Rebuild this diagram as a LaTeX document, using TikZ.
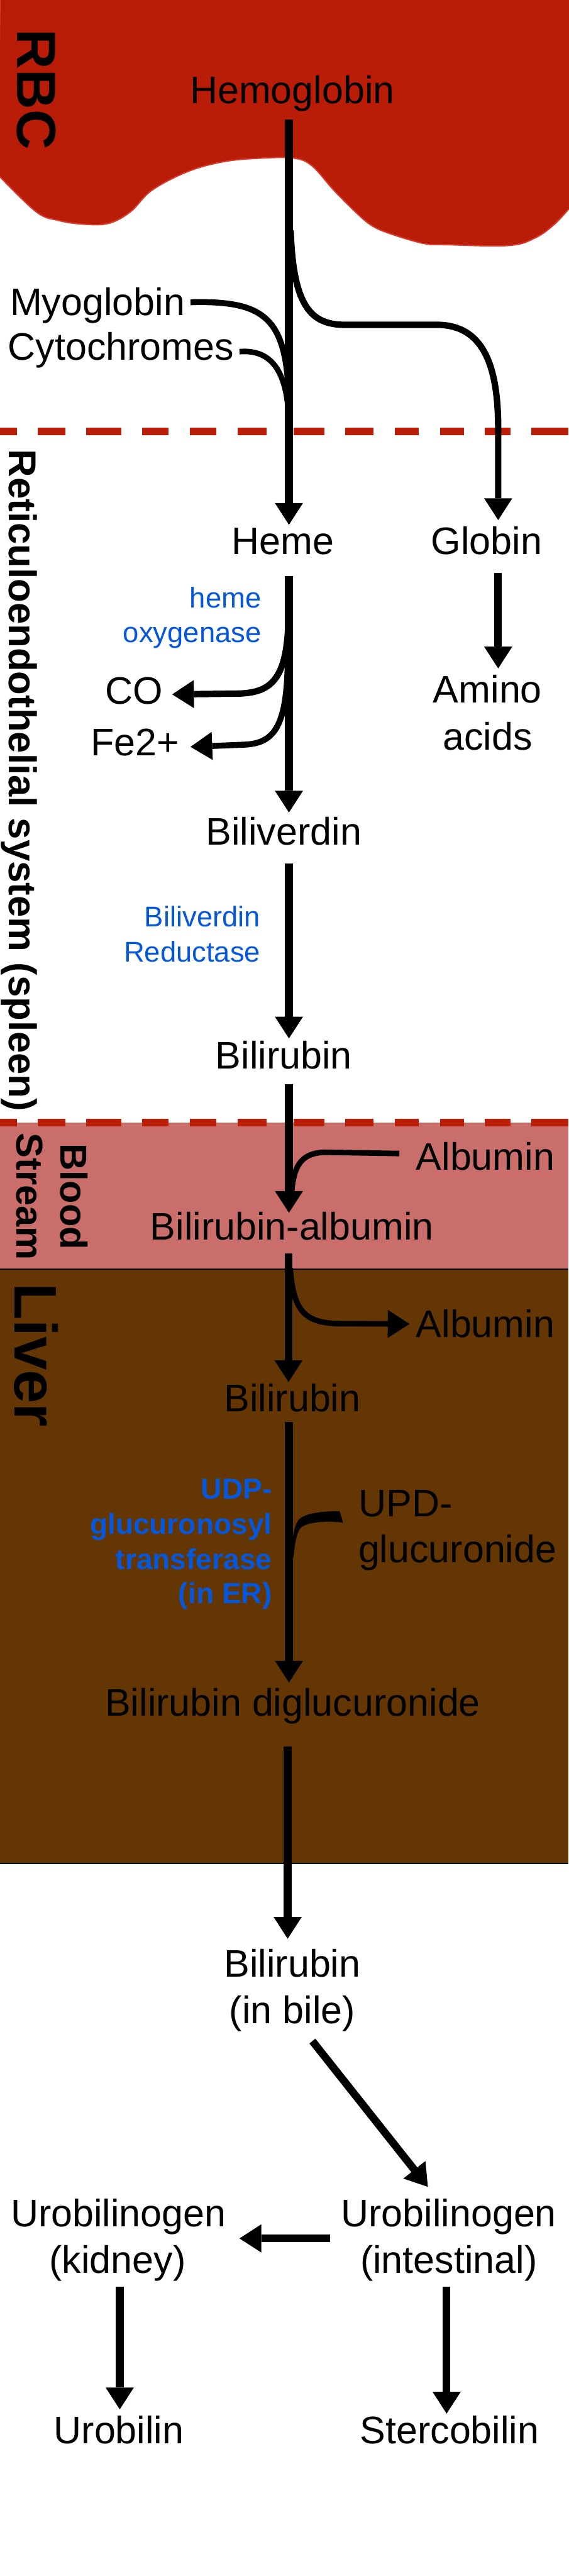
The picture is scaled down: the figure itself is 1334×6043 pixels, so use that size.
\documentclass[tikz,border=0pt]{standalone}
\usepackage{fontspec}
\setmainfont{Liberation Sans}
\usetikzlibrary{arrows.meta}
\definecolor{rbcred}{RGB}{185,28,7}
\definecolor{rbcedge}{RGB}{214,62,48}
\definecolor{bloodpink}{RGB}{201,110,107}
\definecolor{liverbrown}{RGB}{99,54,3}
\definecolor{enzblue}{RGB}{5,88,219}
\begin{document}
\begin{tikzpicture}[x=1pt,y=-1pt,
  lbl/.style={inner sep=0pt,outer sep=0pt,anchor=base,font=\fontsize{90}{108}\selectfont},
  enz/.style={inner sep=0pt,outer sep=0pt,anchor=base east,text=enzblue,font=\fontsize{67}{80}\selectfont},
  enzb/.style={inner sep=0pt,outer sep=0pt,anchor=base east,text=enzblue,font=\bfseries\fontsize{68}{82}\selectfont},
  side/.style={inner sep=0pt,outer sep=0pt,anchor=base,rotate=-90,font=\bfseries\fontsize{#1}{#1}\selectfont},
  tipped/.style={-{Triangle[length=51pt,width=66pt,line width=0pt]}},
  flow/.style={line width=18pt,tipped},
  branch/.style={line width=14pt},
  regionline/.style={line width=3pt,black}
]
\path[use as bounding box,fill=white] (0,0) rectangle (1334,6043);

% ---------- regions ----------
\fill[rbcred,draw=rbcedge,line width=3pt]
  (0,-5) -- (1339,-5) -- (1339,491)
  -- plot[smooth,tension=0.6] coordinates {(1334,491) (1300,527) (1256,558) (1194,576) (1046,574) (993,571) (912,547) (872,529) (837,500) (783,446) (732,389) (689,371) (613,371) (527,379) (442,402) (357,446) (306,497) (255,524) (196,526) (136,517) (85,497) (0,415)}
  -- (-5,415) -- cycle;
\fill[bloodpink] (0,2634) rectangle (1334,2977);
\fill[liverbrown] (0,2977) rectangle (1334,4371);
\draw[regionline] (0,2977) -- (1334,2977);
\draw[regionline] (0,4371) -- (1334,4371);
\foreach \a/\b in {0/40,89/153,202/285,334/396,445/508,557/625,689/761,810/876,926/983,1032/1089,1138/1198,1247/1334}{
  \fill[rbcred] (\a,1003) rectangle (\b,1021);
  \fill[rbcred] (\a,2624) rectangle (\b,2642);
}

% ---------- side labels ----------
\node[side=130] (rbc) at (41,210) {RBC};
\node[side=91] (res) at (21,1831) {Reticuloendothelial system (spleen)};
\node[side=88] (blood) at (143,2807) {Blood};
\node[side=88] (stream) at (39,2807) {Stream};
\node[side=141] (liver) at (34,3179) {Liver};

% ---------- text nodes ----------
\node[lbl] (hb) at (686,242) {Hemoglobin};
\node[lbl,anchor=base east] (myo) at (434,740) {Myoglobin};
\node[lbl,anchor=base east] (cyt) at (549,845) {Cytochromes};
\node[lbl] (heme) at (664,1301) {Heme};
\node[lbl] (globin) at (1142,1301) {Globin};
\node[enz] (ho1) at (613,1426) {heme};
\node[enz] (ho2) at (613,1507) {oxygenase};
\node[lbl] (co) at (315,1652) {CO};
\node[lbl] (fe) at (317,1772) {Fe2+};
\node[lbl] (amino) at (1144,1649) {Amino};
\node[lbl] (acids) at (1144,1759) {acids};
\node[lbl] (bv) at (666,1982) {Biliverdin};
\node[enz] (br1) at (611,2174) {Biliverdin};
\node[enz] (br2) at (611,2256) {Reductase};
\node[lbl] (br) at (666,2508) {Bilirubin};
\node[lbl] (albin) at (1139,2745) {Albumin};
\node[lbl] (bra) at (685,2909) {Bilirubin-albumin};
\node[lbl] (albout) at (1139,3137) {Albumin};
\node[lbl] (brl) at (686,3311) {Bilirubin};
\node[enzb] (udp1) at (638,3517) {UDP-};
\node[enzb] (udp2) at (638,3599) {glucuronosyl};
\node[enzb] (udp3) at (638,3681) {transferase};
\node[enzb] (udp4) at (638,3762) {(in ER)};
\node[lbl,anchor=base west] (upd1) at (842,3558) {UPD-};
\node[lbl,anchor=base west] (upd2) at (841,3666) {glucuronide};
\node[lbl] (bdg) at (687,4026) {Bilirubin diglucuronide};
\node[lbl] (bb1) at (686,4638) {Bilirubin};
\node[lbl] (bb2) at (686,4747) {(in bile)};
\node[lbl] (ui1) at (1053,5223) {Urobilinogen};
\node[lbl] (ui2) at (1053,5333) {(intestinal)};
\node[lbl] (uk1) at (278,5223) {Urobilinogen};
\node[lbl] (uk2) at (276,5333) {(kidney)};
\node[lbl] (urob) at (279,5732) {Urobilin};
\node[lbl] (sterc) at (1055,5732) {Stercobilin};

% ---------- connector end points ----------
\coordinate (hbS) at (678,281);
\coordinate (hemeN) at (678,1231);
\coordinate (myoE) at (447,709);
\coordinate (cytE) at (562,825);
\coordinate (glbN) at (1169,1220);
\coordinate (glbS) at (1169,1344);
\coordinate (aminoN) at (1169,1568);
\coordinate (hemeS) at (678,1351);
\coordinate (bvN) at (678,1906);
\coordinate (coE) at (404,1629);
\coordinate (feE) at (447,1752);
\coordinate (bvS) at (678,2026);
\coordinate (brN) at (678,2436);
\coordinate (brS) at (678,2543);
\coordinate (braN) at (678,2845);
\coordinate (albinW) at (937,2706);
\coordinate (braS) at (677,2940);
\coordinate (brlN) at (677,3242);
\coordinate (alboutW) at (961,3106);
\coordinate (brlS) at (678,3335);
\coordinate (bdgN) at (678,3947);
\coordinate (bdgS) at (675,4097);
\coordinate (bbN) at (675,4548);
\coordinate (bbS) at (733,4788);
\coordinate (uiN) at (1004,5130);
\coordinate (uiW) at (774,5251);
\coordinate (ukE) at (562,5251);
\coordinate (ukS) at (281,5364);
\coordinate (urobN) at (281,5652);
\coordinate (uiS) at (1048,5364);
\coordinate (stercN) at (1048,5662);

% ---------- connectors ----------
\draw[branch] (myoE) .. controls (610,705) and (665,740) .. (676,900);
\draw[branch,line width=13pt] (cytE) .. controls (620,820) and (668,850) .. (676,960);
\draw[line width=15pt,tipped] (682,540) .. controls (688,720) and (730,762) .. (810,762)
   -- (1030,762) .. controls (1130,765) and (1168,850) .. (1169,1000) -- (glbN);
\draw[flow] (hbS) -- (hemeN);
\draw[flow] (glbS) -- (aminoN);
\draw[line width=15pt,tipped] (677,1440) .. controls (676,1590) and (640,1625) .. (560,1627) -- (coE);
\draw[line width=14pt,tipped] (675,1560) .. controls (672,1710) and (640,1745) .. (570,1747) -- (feE);
\draw[flow] (hemeS) -- (bvN);
\draw[flow] (bvS) -- (brN);
\draw[line width=13pt] (albinW) -- (760,2703) .. controls (702,2706) and (689,2740) .. (684,2800);
\draw[flow] (brS) -- (braN);
\draw[line width=13pt,tipped] (681,2975) .. controls (688,3075) and (715,3102) .. (790,3105) -- (alboutW);
\draw[flow] (braS) -- (brlN);
\fill (805,3572) -- (797,3545) .. controls (745,3545) and (712,3552) .. (700,3566)
   .. controls (690,3580) and (686,3610) .. (684,3640) -- (686,3660) -- (689,3650)
   .. controls (693,3610) and (698,3590) .. (708,3582)
   .. controls (725,3570) and (770,3567) .. (805,3572) -- cycle;
\draw[flow] (brlS) -- (bdgN);
\draw[flow] (bdgS) -- (bbN);
\draw[flow] (bbS) -- (uiN);
\draw[flow] (uiW) -- (ukE);
\draw[flow] (ukS) -- (urobN);
\draw[flow] (uiS) -- (stercN);
\end{tikzpicture}
\end{document}
